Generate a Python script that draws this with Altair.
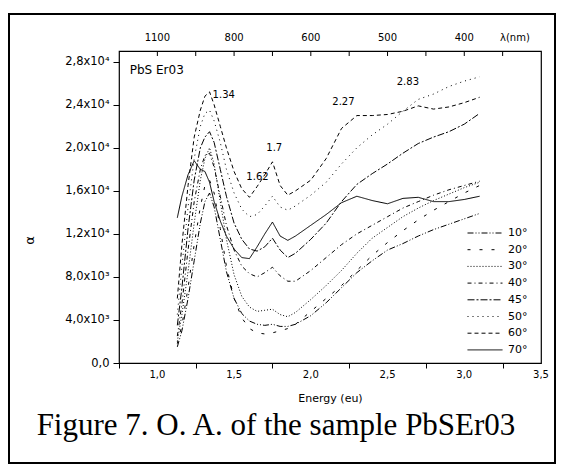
import altair as alt
import pandas as pd

# ---------------- data (alpha in units of 10^3) ----------------
energy = [1.13, 1.16, 1.20, 1.24, 1.28, 1.31, 1.34, 1.37, 1.41, 1.45, 1.50, 1.55, 1.60,
          1.65, 1.70, 1.75, 1.80, 1.85, 1.90, 2.00, 2.10, 2.20, 2.30, 2.40, 2.50, 2.60,
          2.70, 2.80, 2.90, 3.00, 3.10]

a_10 = [1.5, 3.0, 6.0, 9.5, 13.0, 15.0, 15.8, 14.5, 11.5, 8.5, 6.0, 4.6, 3.9, 3.6, 3.5, 3.6,
        3.4, 3.4, 3.6, 4.4, 5.6, 7.0, 8.4, 9.5, 10.5, 11.1, 11.8, 12.4, 12.9, 13.4, 13.9]
a_20 = [1.8, 3.5, 7.0, 11.0, 14.5, 16.5, 17.0, 15.8, 12.5, 9.0, 6.0, 4.2, 3.2, 2.8, 2.7, 2.8,
        3.0, 3.2, 3.6, 4.8, 6.0, 7.2, 8.6, 10.0, 11.2, 12.3, 13.3, 14.2, 15.0, 15.8, 16.5]
a_30 = [2.0, 4.5, 8.5, 13.0, 17.0, 19.0, 20.0, 18.5, 15.0, 11.5, 8.2, 6.2, 5.2, 4.8, 4.9, 5.0,
        4.5, 4.3, 4.7, 5.9, 7.2, 8.6, 10.2, 11.6, 12.6, 13.6, 14.4, 15.1, 15.7, 16.3, 16.8]
a_40 = [2.5, 5.5, 10.5, 15.0, 18.0, 19.3, 19.5, 18.2, 15.5, 12.8, 10.5, 9.0, 8.3, 8.0, 8.4, 8.9,
        8.1, 7.6, 7.6, 8.6, 9.8, 11.0, 12.0, 12.8, 13.6, 14.4, 15.0, 15.6, 16.1, 16.5, 16.9]
a_45 = [3.5, 7.0, 12.5, 17.0, 20.0, 21.0, 21.5, 20.5, 18.0, 15.5, 13.0, 11.5, 10.6, 10.4, 10.8, 11.6,
        10.5, 9.8, 10.2, 11.5, 13.0, 15.0, 16.6, 17.6, 18.5, 19.5, 20.4, 21.0, 21.5, 22.2, 23.2]
a_50 = [4.5, 9.0, 14.5, 19.0, 22.0, 23.2, 23.5, 22.5, 20.5, 18.0, 15.8, 14.3, 13.6, 13.8, 14.6, 15.5,
        14.5, 14.2, 14.6, 15.6, 16.8, 18.5, 20.0, 21.2, 22.2, 23.4, 24.5, 25.0, 25.7, 26.2, 26.6]
a_60 = [6.0, 11.0, 16.5, 21.0, 23.5, 24.8, 25.2, 24.0, 22.0, 20.0, 17.8, 16.2, 15.4, 16.4, 17.5, 18.7,
        16.5, 15.6, 16.0, 17.0, 19.0, 21.8, 23.0, 23.0, 23.1, 23.4, 23.9, 23.6, 23.8, 24.2, 24.7]
a_70 = [13.5, 15.5, 17.5, 18.8, 18.0, 17.8, 16.8, 15.0, 13.2, 11.8, 10.6, 9.8, 9.7, 10.8, 12.0, 13.1,
        11.8, 11.4, 11.8, 12.8, 13.8, 14.9, 15.5, 15.1, 14.8, 15.3, 15.4, 15.0, 15.0, 15.2, 15.5]

angles = ["10°", "20°", "30°", "40°", "45°", "50°", "60°", "70°"]
series = [a_10, a_20, a_30, a_40, a_45, a_50, a_60, a_70]

dashes = [[6, 2, 1, 2, 1, 2], [3, 9], [1, 2], [4, 3, 1, 3], [7, 2, 2, 2], [1, 4], [4, 3], [1, 0]]
widths = [1, 1, 1, 1, 1, 1, 1, 1.6]

bottom_tick_e = [0.75, 1.0, 1.25, 1.5, 1.75, 2.0, 2.25, 2.5, 2.75, 3.0, 3.25, 3.5]
bottom_label_e = [1.0, 1.5, 2.0, 2.5, 3.0, 3.5]
bottom_label_text = ["1,0", "1,5", "2,0", "2,5", "3,0", "3,5"]

top_tick_e = [1.0, 1.25, 1.5, 1.75, 2.0, 2.25, 2.5, 2.75, 3.0, 3.25]
top_label_e = [1.0, 1.5, 2.0, 2.5, 3.0, 3.33]
top_label_text = ["1100", "800", "600", "500", "400", "λ(nm)"]

ann_text = ["PbS Er03", "1.34", "1.62", "1.7", "2.27", "2.83"]
ann_e = [0.82, 1.36, 1.58, 1.71, 2.14, 2.56]
ann_a = [27.2, 24.9, 17.3, 20.0, 24.3, 26.1]

caption = ["Figure 7. O. A. of the sample PbSEr03"]

# ---------------- tables ----------------
rows = []
for ang, vals in zip(angles, series):
    for e, a in zip(energy, vals):
        rows.append({"E": e, "alpha": a, "angle": ang})
df = pd.DataFrame(rows)
top_ticks = pd.DataFrame({"E": top_tick_e})
top_labels = pd.DataFrame({"E": top_label_e, "t": top_label_text})
bot_labels = pd.DataFrame({"E": bottom_label_e, "t": bottom_label_text})
ann = pd.DataFrame({"E": ann_e, "alpha": ann_a, "t": ann_text})
cap = pd.DataFrame({"t": caption})

FONT = "DejaVu Sans"
xscale = alt.Scale(domain=[0.75, 3.5], nice=False, zero=False)
yscale = alt.Scale(domain=[0, 29], nice=False, zero=True)

x_axis = alt.Axis(
    values=bottom_tick_e, labels=False,
    tickSize=5, domain=False, grid=False, tickColor="black",
    title="Energy (eu)", titleFont=FONT, titleFontSize=11, titleFontWeight="normal",
    titlePadding=24, titleColor="black",
)
y_axis = alt.Axis(
    values=list(range(0, 29)),
    labelExpr=("datum.value % 2 == 0 ? (datum.value == 0 ? '0,0' : (datum.value >= 10 ? "
               "replace(format(datum.value/10, '.1f'), '.', ',') + 'x10⁴' : "
               "format(datum.value, '.0f') + ',0x10³')) : ''"),
    tickSize=6, labelPadding=4, labelFontSize=11.5, labelFont=FONT, labelColor="black",
    domain=False, grid=False, tickColor="black", labelOverlap=False,
    title="α", titleFont=FONT, titleFontSize=13, titleFontWeight="normal",
    titleX=-83, titleY=189, titleColor="black",
)

lines = alt.Chart(df).mark_line(color="black", clip=True).encode(
    x=alt.X("E:Q", scale=xscale, axis=x_axis),
    y=alt.Y("alpha:Q", scale=yscale, axis=y_axis),
    strokeDash=alt.StrokeDash(
        "angle:N",
        scale=alt.Scale(domain=angles, range=dashes),
        legend=alt.Legend(
            title=None, orient="none", legendX=348, legendY=174,
            symbolType="stroke", symbolSize=1225, symbolStrokeWidth=1,
            symbolStrokeColor="black", clipHeight=16, rowPadding=0.7,
            labelFont=FONT, labelFontSize=11, labelOffset=5, labelColor="black",
            padding=0,
        ),
    ),
    strokeWidth=alt.StrokeWidth(
        "angle:N", scale=alt.Scale(domain=angles, range=widths), legend=None
    ),
    detail="angle:N",
)

ticks_top = alt.Chart(top_ticks).mark_rule(color="black", strokeWidth=1).encode(
    x=alt.X("E:Q", scale=xscale), y=alt.value(0), y2=alt.value(5)
)
labels_top = alt.Chart(top_labels).mark_text(
    font=FONT, fontSize=10, baseline="middle", color="black"
).encode(x=alt.X("E:Q", scale=xscale), y=alt.value(-13), text="t:N")

labels_bottom = alt.Chart(bot_labels).mark_text(
    font=FONT, fontSize=10, baseline="middle", color="black"
).encode(x=alt.X("E:Q", scale=xscale), y=alt.value(324), text="t:N")

annot = alt.Chart(ann).mark_text(
    font=FONT, fontSize=10, align="left", baseline="middle", color="black"
).encode(
    x=alt.X("E:Q", scale=xscale),
    y=alt.Y("alpha:Q", scale=yscale),
    text="t:N",
    size=alt.condition(alt.datum.t == "PbS Er03", alt.value(12), alt.value(10)),
)

caption_text = alt.Chart(cap).mark_text(
    font="Liberation Serif", fontSize=31, baseline="middle", align="center", color="black"
).encode(x=alt.value(157), y=alt.value(375), text="t:N")

border = alt.Chart(pd.DataFrame({"k": [0]})).mark_rect(
    fillOpacity=0, stroke="black", strokeWidth=2
).encode(
    x=alt.value(-110), x2=alt.value(436), y=alt.value(-37), y2=alt.value(412)
)

chart = alt.layer(border, lines, ticks_top, labels_top, labels_bottom, annot, caption_text).properties(
    width=422, height=312,
    padding={"left": 111, "top": 43, "right": 15, "bottom": 103},
    autosize=alt.AutoSizeParams(type="none"),
    background="white",
).configure_view(stroke="black", strokeWidth=1.2)

chart.save("out.html", embed_options={"renderer": "svg", "actions": False})
